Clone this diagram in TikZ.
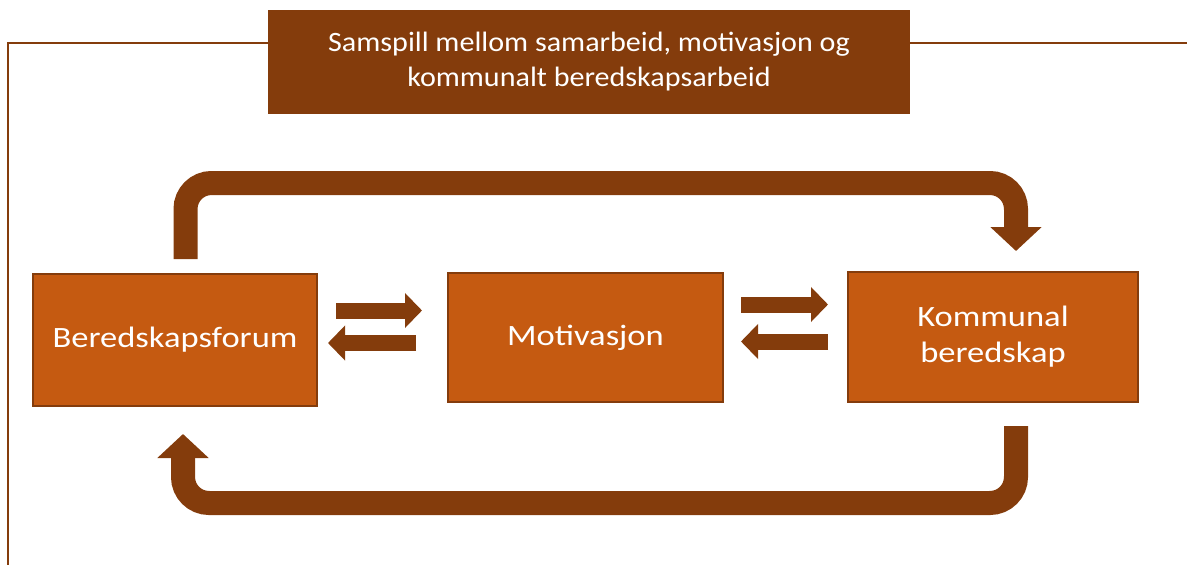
\documentclass[tikz,border=0pt]{standalone}
\usepackage{fontspec}
\setmainfont{Carlito}
\newfontfamily\boxfont[FakeStretch=1.17]{Carlito}
\newfontfamily\titlefont[FakeStretch=1.075]{Carlito}
\usetikzlibrary{arrows.meta,calc}
\definecolor{darkbrown}{HTML}{843C0C}
\definecolor{boxorange}{HTML}{C55A11}
\tikzset{
  mainbox/.style={draw=darkbrown, line width=2pt, fill=boxorange, text=white,
    font=\boxfont\fontsize{29.5}{36}\selectfont, align=center, inner sep=0pt},
  titlebox/.style={fill=darkbrown, text=white, inner sep=0pt,
    font=\titlefont\fontsize{28}{35}\selectfont, align=center},
  framelinestyle/.style={draw=darkbrown, line width=2pt},
  bigarrow/.style={draw=darkbrown, line width=24pt, rounded corners=26pt,
    -{Triangle[width=50pt,length=24pt]}},
  smallarrow/.style={draw=darkbrown, line width=16pt,
    -{Triangle[width=34pt,length=17pt]}}
}
\begin{document}
\begin{tikzpicture}[x=1pt,y=-1pt]
\useasboundingbox (0,0) rectangle (1187,565);
\node[titlebox, minimum width=642pt, minimum height=104pt] (title) at (589,62)
  {Samspill mellom samarbeid, motivasjon og\\kommunalt beredskapsarbeid};
\coordinate (fl) at (8,565);
\coordinate (fr) at (1187,43);
\draw[framelinestyle] (title.west |- 0,43) -- (8,43) -- (fl);
\draw[framelinestyle] (title.east |- 0,43) -- (fr);

\node[mainbox, minimum width=284pt, minimum height=132pt] (bf) at (175,340) {Beredskapsforum};
\node[mainbox, minimum width=275pt, minimum height=129pt] (mo) at (585.5,337.5) {Motivasjon};
\node[mainbox, minimum width=290pt, minimum height=130pt] (kb) at (993,337) {Kommunal\\beredskap};

% top loop arrow
\coordinate (t1) at (185.5,259);
\coordinate (t2) at (1016,251);
\draw[bigarrow] (t1) -- (185.5,183) -- (1016,183) -- (t2);
% bottom loop arrow
\coordinate (b1) at (1016,426);
\coordinate (b2) at (183,434);
\draw[bigarrow] (b1) -- (1016,503) -- (183,503) -- (b2);

% small arrows
\coordinate (a1s) at (336,310.5);
\coordinate (a1e) at (422,310.5);
\coordinate (a2s) at (416,343);
\coordinate (a2e) at (328,343);
\coordinate (a3s) at (741,304.5);
\coordinate (a3e) at (828,304.5);
\coordinate (a4s) at (828,341.5);
\coordinate (a4e) at (741,341.5);
\draw[smallarrow] (a1s) -- (a1e);
\draw[smallarrow] (a2s) -- (a2e);
\draw[smallarrow] (a3s) -- (a3e);
\draw[smallarrow] (a4s) -- (a4e);
\end{tikzpicture}
\end{document}
